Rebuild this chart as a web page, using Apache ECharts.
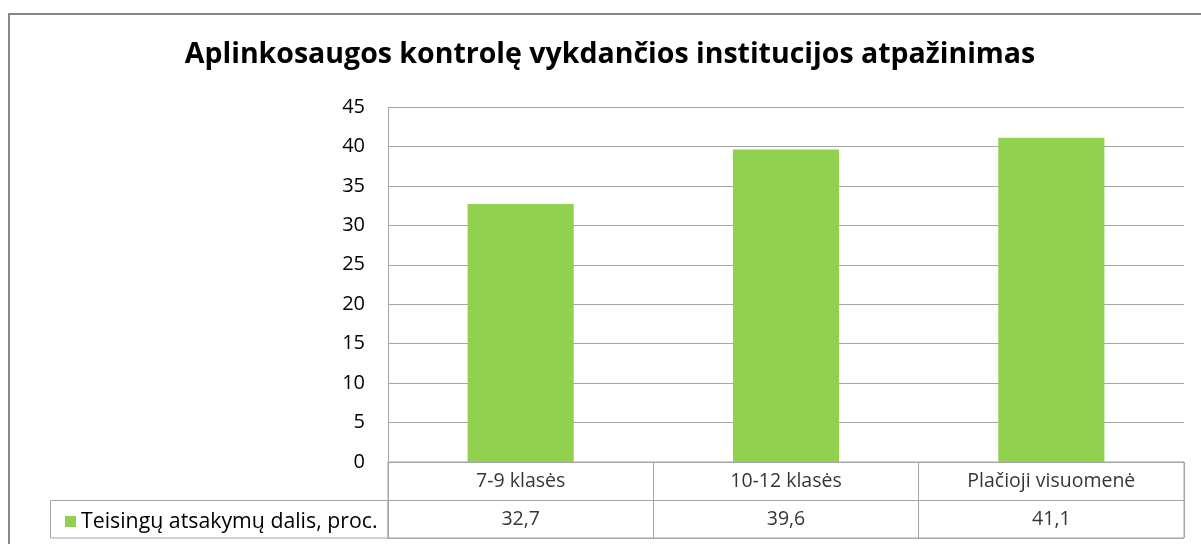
<!DOCTYPE html>
<html>
<head>
<meta charset="utf-8">
<script src="https://cdn.jsdelivr.net/npm/echarts@6/dist/echarts.min.js"></script>
<style>
  html, body { margin: 0; padding: 0; background: #fff; }
  #chart { width: 1201px; height: 544px; }
</style>
</head>
<body>
<div id="chart"></div>
<script>
const titleText = 'Aplinkosaugos kontrolę vykdančios institucijos atpažinimas'
const categories = ['7-9 klasės', '10-12 klasės', 'Plačioji visuomenė']
const seriesName = 'Teisingų atsakymų dalis, proc.'
const values = [32.7, 39.6, 41.1]
const valueLabels = ['32,7', '39,6', '41,1']
const tableRows = ['cat', 'val']

const font = 'Open Sans'
const gray = '#a6a6a6'

const chart = echarts.init(document.getElementById('chart'))

chart.setOption({
    animation: false,
    title: {
        text: titleText,
        left: 605,
        top: 35,
        textAlign: 'center',
        textStyle: { fontFamily: font, fontSize: 28.5, fontWeight: 'bold', color: '#000' }
    },
    legend: {
        data: [seriesName],
        left: 60,
        top: 506,
        icon: 'rect',
        itemWidth: 11,
        itemHeight: 11,
        itemGap: 5,
        textStyle: { fontFamily: font, fontSize: 21.3, color: '#000' }
    },
    grid: [
        { left: 388, right: 17, top: 107, bottom: 82 },
        { left: 388, right: 17, top: 462, height: 76, show: true, borderColor: gray, borderWidth: 1 }
    ],
    xAxis: [
        {
            type: 'category',
            gridIndex: 0,
            data: categories,
            axisLine: { lineStyle: { color: gray } },
            axisTick: { show: false },
            axisLabel: { show: false }
        },
        {
            type: 'category',
            gridIndex: 1,
            data: categories,
            axisLine: { show: false },
            axisTick: { show: false },
            axisLabel: { show: false },
            splitLine: { show: true, lineStyle: { color: gray } }
        }
    ],
    yAxis: [
        {
            type: 'value',
            gridIndex: 0,
            min: 0,
            max: 45,
            interval: 5,
            axisLine: { show: true, lineStyle: { color: gray } },
            axisTick: { show: false },
            axisLabel: { margin: 23, fontFamily: font, fontSize: 20, color: '#000' },
            splitLine: { lineStyle: { color: gray } }
        },
        {
            type: 'category',
            gridIndex: 1,
            inverse: true,
            data: tableRows,
            axisLine: { show: false },
            axisTick: { show: false },
            axisLabel: { show: false },
            splitLine: { show: true, lineStyle: { color: gray } }
        }
    ],
    graphic: [
        {
            type: 'rect',
            shape: { x: 9, y: 14, width: 1210, height: 600 },
            style: { fill: 'none', stroke: '#868686', lineWidth: 2 },
            silent: true
        },
        {
            type: 'rect',
            shape: { x: 50.5, y: 500.5, width: 337.5, height: 37.5 },
            style: { fill: 'none', stroke: gray, lineWidth: 1 },
            silent: true
        }
    ],
    series: [
        {
            name: seriesName,
            type: 'bar',
            xAxisIndex: 0,
            yAxisIndex: 0,
            barWidth: '40%',
            itemStyle: { color: '#92d050' },
            data: values
        },
        {
            name: 'table',
            type: 'scatter',
            xAxisIndex: 1,
            yAxisIndex: 1,
            symbolSize: 0,
            silent: true,
            label: {
                show: true,
                position: 'inside',
                fontFamily: font,
                fontSize: 19.5,
                color: '#000',
                formatter: p => p.data[2]
            },
            data: categories.map(c => [c, 'cat', c])
                .concat(categories.map((c, i) => [c, 'val', valueLabels[i]]))
        }
    ]
})
</script>
</body>
</html>
